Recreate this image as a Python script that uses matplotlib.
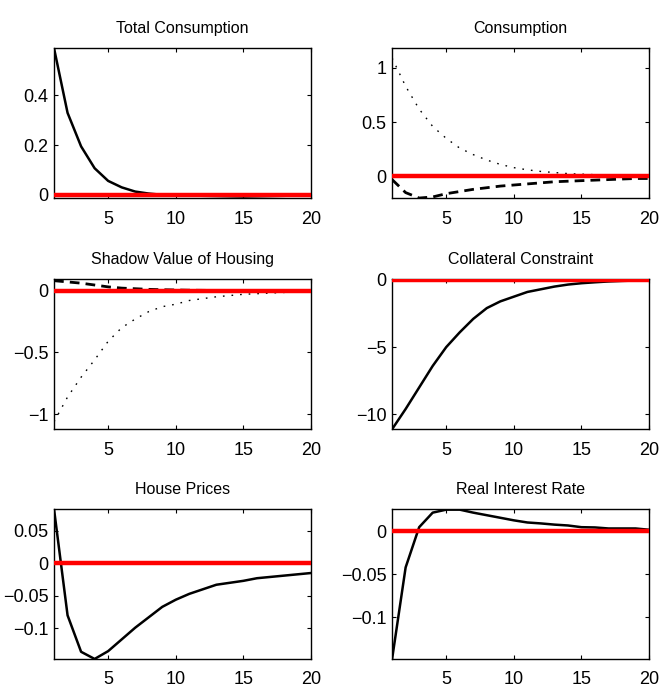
import numpy as np
import matplotlib
matplotlib.use('Agg')
import matplotlib.pyplot as plt

plt.rcParams['font.family'] = ['Liberation Sans', 'DejaVu Sans']

periods = np.arange(1, 21)

# values
total_cons = [0.59, 0.33, 0.195, 0.107, 0.056, 0.03, 0.013, 0.005, 0.0, -0.002,
              -0.003, -0.004, -0.005, -0.006, -0.007, -0.006, -0.005, -0.004, -0.003, -0.002]

cons_dotted = [1.09, 0.83, 0.62, 0.46, 0.35, 0.26, 0.20, 0.15, 0.11, 0.08,
               0.06, 0.045, 0.035, 0.025, 0.02, 0.015, 0.012, 0.01, 0.008, 0.006]
cons_dashed = [-0.03, -0.15, -0.2, -0.19, -0.16, -0.14, -0.12, -0.105, -0.09, -0.08,
               -0.07, -0.06, -0.05, -0.045, -0.04, -0.035, -0.03, -0.025, -0.02, -0.02]

shadow_dotted = [-1.06, -0.86, -0.70, -0.56, -0.41, -0.30, -0.23, -0.17, -0.13, -0.11,
                 -0.08, -0.065, -0.05, -0.04, -0.03, -0.025, -0.02, -0.015, -0.01, -0.01]
shadow_dashed = [0.08, 0.07, 0.06, 0.045, 0.03, 0.02, 0.015, 0.01, 0.007, 0.005,
                 0.003, 0.002, 0.001, 0.0, 0.0, 0.0, 0.0, 0.0, 0.0, 0.0]

collateral = [-11.1, -9.6, -8.0, -6.4, -5.0, -3.9, -2.9, -2.1, -1.6, -1.25,
              -0.9, -0.7, -0.5, -0.35, -0.25, -0.18, -0.12, -0.08, -0.05, -0.02]

house_prices = [0.083, -0.08, -0.136, -0.147, -0.135, -0.117, -0.099, -0.083, -0.067, -0.056,
                -0.047, -0.040, -0.033, -0.030, -0.027, -0.023, -0.021, -0.019, -0.017, -0.015]

real_rate = [-0.149, -0.042, 0.005, 0.022, 0.0255, 0.0255, 0.022, 0.019, 0.016, 0.013,
             0.0105, 0.0094, 0.008, 0.007, 0.005, 0.0047, 0.0035, 0.0035, 0.0035, 0.002]

titles = ['Total Consumption', 'Consumption', 'Shadow Value of Housing',
          'Collateral Constraint', 'House Prices', 'Real Interest Rate']
ylims = [(-0.013, 0.59), (-0.2, 1.18), (-1.12, 0.09),
         (-11.1, 0.03), (-0.147, 0.083), (-0.149, 0.026)]
yticks = [[0, 0.2, 0.4], [0, 0.5, 1], [-1, -0.5, 0],
          [-10, -5, 0], [-0.1, -0.05, 0, 0.05], [-0.1, -0.05, 0]]
yticklabels = [['0', '0.2', '0.4'], ['0', '0.5', '1'], ['\u22121', '\u22120.5', '0'],
               ['\u221210', '\u22125', '0'], ['\u22120.1', '\u22120.05', '0', '0.05'],
               ['\u22120.1', '\u22120.05', '0']]

solid = {0: total_cons, 3: collateral, 4: house_prices, 5: real_rate}
dotted = {1: cons_dotted, 2: shadow_dotted}
dashed = {1: cons_dashed, 2: shadow_dashed}

fig = plt.figure(figsize=(6.59, 6.90), dpi=100)

lefts = [0.082, 0.595]
bottoms = [0.713, 0.378, 0.045]
w, h = 0.390, 0.217

for i in range(6):
    ax = fig.add_axes([lefts[i % 2], bottoms[i // 2], w, h])
    if i in solid:
        ax.plot(periods, solid[i], color='black', lw=1.8)
    if i in dotted:
        ax.plot(periods, dotted[i], color='black', lw=1.0, linestyle=(0, (1.2, 5)))
    if i in dashed:
        ax.plot(periods, dashed[i], color='black', lw=2.0, linestyle=(0, (3.5, 2.2)))
    ax.plot(periods, np.zeros(len(periods)), color='red', lw=3.2, zorder=5)
    ax.set_xlim(1, 20)
    ax.set_ylim(*ylims[i])
    ax.set_xticks([5, 10, 15, 20])
    ax.set_yticks(yticks[i])
    ax.set_yticklabels(yticklabels[i])
    ax.tick_params(direction='in', top=True, right=True, length=3, width=0.8,
                   labelsize=13, pad=4)
    ax.tick_params(axis='x', pad=9)
    ax.set_title(titles[i], fontsize=11.5, pad=11)
    for s in ax.spines.values():
        s.set_linewidth(1.0)

fig.savefig('out.png', dpi=100)
